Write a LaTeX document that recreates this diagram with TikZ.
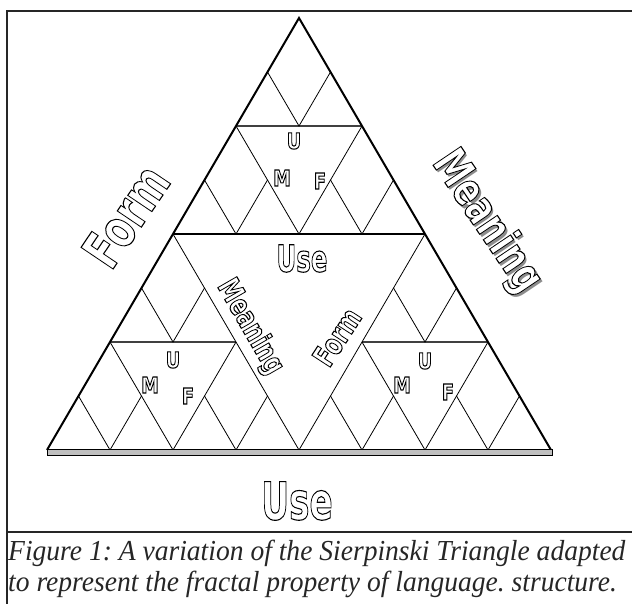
\documentclass[tikz,border=0pt]{standalone}
\usepackage{fontspec}
\usepackage{graphicx}
\setmainfont{Liberation Serif}
\newfontfamily\lblfont{DejaVu Sans}
\newcommand\olt[2]{\scalebox{#1}[1]{\special{pdf:literal direct 0 G 2 Tr 1.1 w}#2\special{pdf:literal direct 0 Tr}}}
\newcommand\lab[3]{\fontsize{#1}{#1}\selectfont\olt{#2}{#3}}
\newcommand\shd[3]{\fontsize{#1}{#1}\selectfont\scalebox{#2}[1]{#3}}
\tikzset{
  lbl/.style={font=\lblfont\bfseries, text=white, inner sep=0pt, anchor=center},
  shadowlbl/.style={font=\lblfont\bfseries, text=black!45, inner sep=0pt, anchor=center},
  thinline/.style={line width=0.8pt, black},
  midline/.style={line width=1.3pt, black!75},
  thickline/.style={line width=2.4pt, black},
  outline/.style={line width=2pt, black, line join=miter},
  frameline/.style={line width=2.5pt, black!85},
  captext/.style={anchor=base west, inner sep=0pt, font=\fontsize{29}{32}\selectfont\itshape, text=black!85},
}
\begin{document}
\frenchspacing
\begin{tikzpicture}[x=1pt,y=-1pt]
\useasboundingbox (0,0) rectangle (632,603);
% frame
\coordinate (ftl) at (7,11);
\coordinate (ftr) at (634,11);
\coordinate (fbl) at (7,605);
\coordinate (fml) at (7,532);
\coordinate (fmr) at (634,532);
\draw[frameline] (ftr) -- (ftl) -- (fbl);
\draw[line width=2pt, black!85] (fml) -- (fmr);
% corners of the big triangle
\coordinate (A) at (299,18);
\coordinate (B) at (47,450);
\coordinate (C) at (551,450);
\coordinate (AB) at (173,234);
\coordinate (AC) at (425,234);
\coordinate (BC) at (299,450);
% sub-triangles
\foreach \x/\y in {299/18, 173/234, 425/234} {
  \draw[midline] (\x-63,\y+108) -- (\x+63,\y+108);
  \draw[thinline] (\x-63,\y+108) -- (\x,\y+216) -- (\x+63,\y+108);
  \foreach \u/\v in {0/0, -63/108, 63/108} {
    \draw[thinline] (\x+\u-31.5,\y+\v+54) -- (\x+\u,\y+\v+108) -- (\x+\u+31.5,\y+\v+54);
  }
}
\draw[thinline] (AB) -- (BC) -- (AC);
\draw[thickline] (AB) -- (AC);
\draw[outline] (B) -- (A) -- (C);
% base band
\coordinate (b1) at (47,449.5);
\coordinate (b2) at (552,455);
\draw[line width=1pt, fill=black!25] (b1) rectangle (b2);
% labels
\node[lbl, rotate=56] (formBig) at (126,216) {\lab{53}{0.72}{Form}};
\node[shadowlbl, rotate=-56] (meaningShadow) at (489,225) {\shd{46}{0.72}{Meaning}};
\node[lbl, rotate=-56] (meaningBig) at (486.5,222) {\lab{46}{0.72}{Meaning}};
\node[lbl] (useBottom) at (297,501) {\lab{52}{0.66}{Use}};
\node[lbl] (useMid) at (302,258.5) {\lab{37}{0.66}{Use}};
\node[lbl, rotate=-60] (meaningMid) at (250,327) {\lab{30}{0.72}{Meaning}};
\node[lbl, rotate=57] (formMid) at (337,337) {\lab{30}{0.72}{Form}};
% small letters
\node[lbl] (u1) at (294,141) {\lab{22}{0.8}{U}};
\node[lbl] (m1) at (282,178) {\lab{22}{0.8}{M}};
\node[lbl] (f1) at (320,181) {\lab{22}{0.8}{F}};
\node[lbl] (u2) at (173,360) {\lab{22}{0.8}{U}};
\node[lbl] (m2) at (150,385) {\lab{22}{0.8}{M}};
\node[lbl] (f2) at (188,396) {\lab{22}{0.8}{F}};
\node[lbl] (u3) at (425,361) {\lab{22}{0.8}{U}};
\node[lbl] (m3) at (402,385) {\lab{22}{0.8}{M}};
\node[lbl] (f3) at (448,392) {\lab{22}{0.8}{F}};
% caption
\node[captext] (cap1) at (8,560) {\scalebox{0.95}[1]{Figure 1: A variation of the Sierpinski Triangle adapted}};
\node[captext] (cap2) at (8,591) {\scalebox{0.95}[1]{to represent the fractal property of language. structure.}};
\end{tikzpicture}
\end{document}
